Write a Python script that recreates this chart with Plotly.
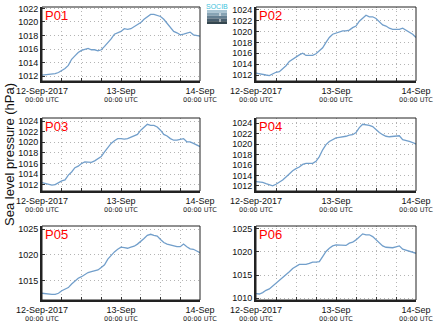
import pandas as pd
import plotly.graph_objects as go

# Hourly sea level pressure (hPa), 12-Sep-2017 00:00 to 14-Sep-2017 00:00 UTC
times = pd.date_range("2017-09-12 00:00", "2017-09-14 00:00", freq="h")

p01 = [1012.15, 1012.2, 1012.3, 1012.35, 1012.4, 1012.55, 1012.8, 1013.15, 1013.6, 1014.5,
       1015.0, 1015.5, 1015.8, 1016.0, 1016.1, 1015.9, 1015.9, 1015.75, 1015.9, 1016.4,
       1016.9, 1017.5, 1018.2, 1018.4, 1018.6, 1019.0, 1018.9, 1019.0, 1019.3, 1019.6,
       1019.9, 1020.4, 1020.8, 1021.1, 1021.1, 1020.9, 1020.8, 1020.4, 1019.8, 1019.1,
       1018.6, 1018.4, 1018.1, 1018.2, 1018.35, 1018.5, 1018.1, 1018.0, 1017.9]
p02 = [1012.35, 1012.2, 1012.1, 1012.0, 1011.9, 1012.25, 1012.5, 1012.6, 1013.1, 1013.7,
       1014.5, 1014.9, 1015.4, 1015.7, 1016.0, 1015.6, 1015.6, 1015.6, 1015.9, 1016.5,
       1017.0, 1018.0, 1018.9, 1019.5, 1019.7, 1020.0, 1020.1, 1020.1, 1020.25, 1020.7,
       1021.0, 1021.9, 1022.5, 1023.0, 1022.7, 1022.7, 1022.4, 1021.8, 1021.2, 1021.0,
       1020.6, 1020.4, 1020.4, 1020.4, 1020.6, 1020.2, 1019.8, 1019.5, 1018.9]
p03 = [1012.4, 1012.2, 1012.1, 1011.9, 1012.0, 1012.4, 1012.7, 1012.9, 1013.8, 1014.4,
       1015.2, 1015.5, 1016.0, 1016.3, 1016.3, 1016.2, 1016.5, 1016.9, 1017.3, 1018.2,
       1019.0, 1019.8, 1020.3, 1020.7, 1020.7, 1020.6, 1020.7, 1021.0, 1021.2, 1021.5,
       1022.3, 1022.8, 1023.4, 1023.2, 1023.2, 1022.9, 1022.3, 1021.5, 1021.2, 1020.7,
       1020.4, 1020.4, 1020.6, 1020.7, 1020.1, 1020.1, 1019.8, 1019.5, 1019.2]
p04 = [1012.8, 1012.75, 1012.65, 1012.4, 1012.2, 1012.0, 1012.3, 1012.65, 1013.1, 1013.7,
       1014.4, 1014.9, 1015.3, 1015.6, 1016.1, 1016.3, 1016.3, 1016.3, 1016.7, 1017.6,
       1018.9, 1019.9, 1020.5, 1020.85, 1021.2, 1021.3, 1021.35, 1021.5, 1021.7, 1021.8,
       1022.2, 1023.15, 1023.8, 1023.7, 1023.6, 1023.35, 1022.7, 1022.2, 1021.8, 1021.5,
       1021.4, 1021.5, 1021.5, 1021.6, 1020.85, 1020.6, 1020.5, 1020.3, 1020.0]
p05 = [1012.6, 1012.5, 1012.4, 1012.4, 1012.4, 1012.6, 1013.1, 1013.4, 1013.7, 1014.4,
       1014.9, 1015.5, 1015.8, 1016.2, 1016.6, 1016.8, 1016.9, 1017.1, 1017.6, 1018.1,
       1019.2, 1020.0, 1020.6, 1021.1, 1021.5, 1021.4, 1021.3, 1021.5, 1021.7, 1022.1,
       1022.6, 1023.2, 1023.8, 1024.0, 1023.8, 1023.65, 1023.0, 1022.4, 1022.1, 1021.9,
       1021.7, 1021.6, 1021.6, 1022.1, 1021.6, 1021.2, 1021.1, 1020.8, 1020.45]
p06 = [1011.0, 1010.9, 1011.2, 1011.7, 1012.0, 1012.6, 1013.4, 1013.9, 1014.4, 1015.0,
       1015.7, 1016.4, 1016.9, 1017.3, 1017.3, 1017.3, 1017.5, 1017.8, 1017.8, 1017.9,
       1019.0, 1020.1, 1020.8, 1021.3, 1021.5, 1021.5, 1021.5, 1021.4, 1021.9, 1022.1,
       1022.6, 1023.3, 1023.9, 1023.7, 1023.7, 1023.3, 1022.6, 1021.9, 1021.3, 1021.0,
       1021.0, 1020.9, 1021.1, 1021.3, 1020.6, 1020.4, 1020.1, 1019.9, 1019.7]

stations = ["P01", "P02", "P03", "P04", "P05", "P06"]
series = [p01, p02, p03, p04, p05, p06]
y_ranges = [[1011.3, 1022.2], [1010.9, 1024.5], [1010.8, 1024.6],
            [1011.0, 1025.0], [1011.3, 1025.6], [1009.6, 1025.6]]
y_dticks = [2, 2, 2, 2, 5, 5]

# Grid every 6 h, labels every 24 h
grid_times = pd.date_range("2017-09-12 00:00", "2017-09-14 00:00", freq="6h")
day_labels = {0: "12-Sep-2017", 4: "13-Sep", 8: "14-Sep"}
tick_text = [day_labels.get(i, "") for i in range(len(grid_times))]

W, H = 434, 327
col_px = [(42, 200), (256, 416)]
row_px = [(7, 81), (118, 191), (226, 300)]

line_color = "#729fcb"
font_fam = "Liberation Sans, Arial, sans-serif"
grid_color = "#b4b4b4"
grid_dash = "1px,3px"

fig = go.Figure()
layout = dict(width=W, height=H, margin=dict(l=0, r=0, t=0, b=0),
              paper_bgcolor="white", plot_bgcolor="white", showlegend=False,
              font=dict(family=font_fam, size=9, color="#111"))
annotations = []
shapes = []

for i, (name, vals) in enumerate(zip(stations, series)):
    r, c = divmod(i, 2)
    n = "" if i == 0 else str(i + 1)
    xa, ya = "x" + n, "y" + n
    x0, x1 = col_px[c]
    t0, t1 = row_px[r]
    fig.add_trace(go.Scatter(x=times, y=vals, mode="lines", xaxis=xa, yaxis=ya,
                             line=dict(color=line_color, width=1.3)))
    layout["xaxis" + n] = dict(
        domain=[x0 / W, x1 / W], anchor=ya, automargin=False,
        range=[times[0], times[-1]],
        tickmode="array", tickvals=grid_times, ticktext=tick_text,
        ticks="inside", ticklen=3, tickcolor="#333",
        showgrid=True, gridcolor=grid_color, griddash=grid_dash, gridwidth=1,
        showline=True, linecolor="#222", linewidth=2,
        tickfont=dict(size=9, color="#111"), tickangle=0, zeroline=False)
    layout["yaxis" + n] = dict(
        domain=[1 - t1 / H, 1 - t0 / H], anchor=xa, automargin=False,
        range=y_ranges[i], dtick=y_dticks[i], tick0=1000,
        ticks="inside", ticklen=3, tickcolor="#333",
        showgrid=True, gridcolor=grid_color, griddash=grid_dash, gridwidth=1,
        showline=True, linecolor="#222", linewidth=2,
        tickfont=dict(size=9, color="#111"), zeroline=False)
    # thin frame on top/right
    shapes.append(dict(type="rect", xref=xa + " domain", yref=ya + " domain",
                       x0=0, x1=1, y0=0, y1=1, line=dict(color="#222", width=1),
                       layer="above"))
    # station label
    annotations.append(dict(text=name, xref=xa + " domain", yref=ya + " domain",
                            x=0, y=1, xanchor="left", yanchor="top", xshift=1, yshift=1,
                            showarrow=False, font=dict(size=13, color="red")))
    # second line of the day labels
    for k in (0, 4, 8):
        annotations.append(dict(text="00:00 UTC", xref=xa, yref=ya + " domain",
                                x=grid_times[k], y=0, yanchor="top", yshift=-13,
                                showarrow=False,
                                font=dict(size=6.5, color="#222", family="DejaVu Sans")))

annotations.append(dict(text="Sea level pressure (hPa)", xref="paper", yref="paper",
                        x=9 / W, y=1 - 155 / H, xanchor="center", yanchor="middle",
                        textangle=-90, showarrow=False,
                        font=dict(size=13, color="#111")))

# small logo
logo_x0, logo_x1 = 207 / W, 227 / W
bands = ["#a9c4d2", "#86a3b4", "#647f91", "#4a6070", "#34464f"]
for b, colr in enumerate(bands):
    shapes.append(dict(type="rect", xref="paper", yref="paper", x0=logo_x0, x1=logo_x1,
                       y0=1 - (10 + (b + 1) * 14 / len(bands)) / H,
                       y1=1 - (10 + b * 14 / len(bands)) / H,
                       fillcolor=colr, line=dict(width=0)))
shapes.append(dict(type="line", xref="paper", yref="paper", x0=220 / W, x1=220 / W,
                   y0=1 - 22 / H, y1=1 - 12 / H, line=dict(color="white", width=1, dash="dot")))
annotations.append(dict(text="SOCIB", xref="paper", yref="paper", x=217 / W, y=1 - 6.5 / H,
                        xanchor="center", yanchor="middle",
                        showarrow=False, font=dict(size=7, color="#3cc3dc")))

layout["annotations"] = annotations
layout["shapes"] = shapes
fig.update_layout(**layout)
fig.write_html("out.html")
